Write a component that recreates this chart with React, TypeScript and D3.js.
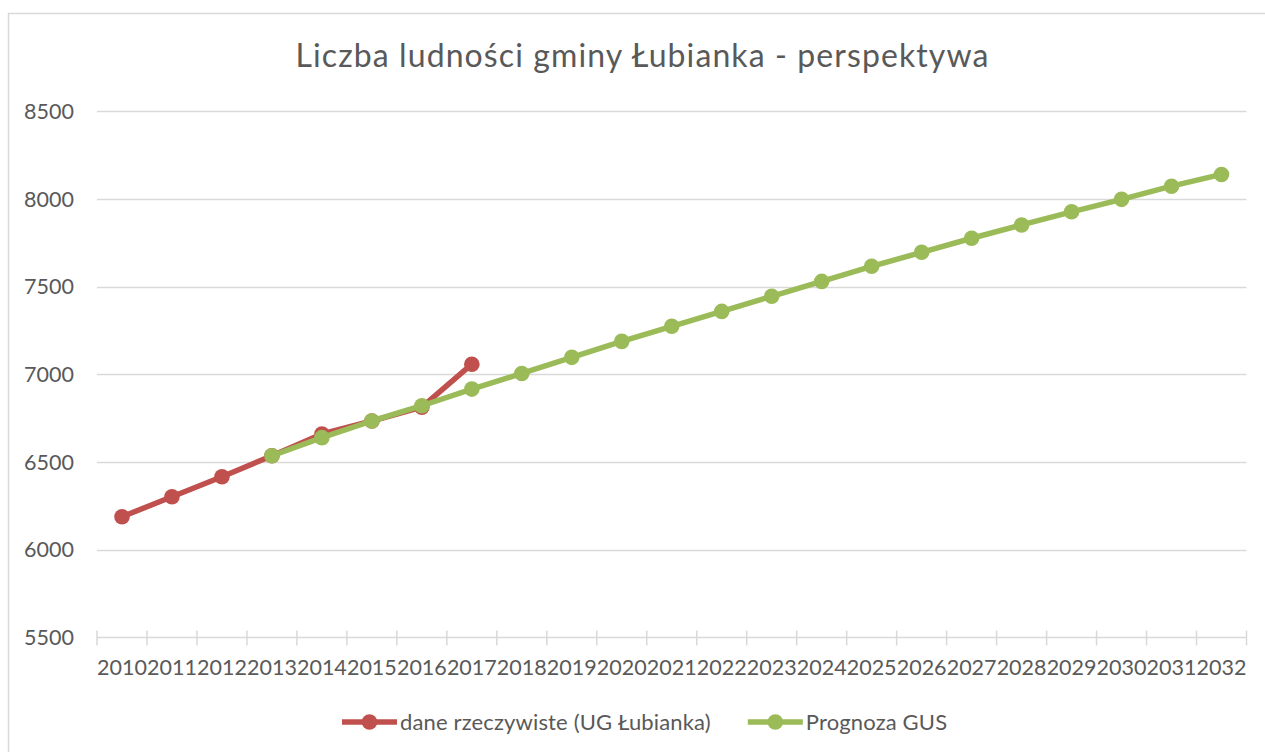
import { useEffect, useRef } from 'react'
import * as d3 from 'd3'

const years = [
  '2010', '2011', '2012', '2013', '2014', '2015', '2016', '2017', '2018', '2019', '2020', '2021',
  '2022', '2023', '2024', '2025', '2026', '2027', '2028', '2029', '2030', '2031', '2032',
]
// dane rzeczywiste (UG Łubianka), 2010–2017
const actualYears = ['2010', '2011', '2012', '2013', '2014', '2015', '2016', '2017']
const actualValues = [6188, 6302, 6416, 6536, 6660, 6734, 6813, 7058]
// Prognoza GUS, 2013–2032
const forecastYears = years.slice(3)
const forecastValues = [
  6536, 6639, 6734, 6821, 6916, 7005, 7097, 7188, 7274, 7359, 7445, 7530, 7616, 7696, 7776, 7852,
  7927, 7998, 8073, 8140,
]
const yTicks = [5500, 6000, 6500, 7000, 7500, 8000, 8500]

const seriesNames = ['dane rzeczywiste (UG Łubianka)', 'Prognoza GUS']
const seriesColors = ['#C0504D', '#9BBB59']

const W = 1265
const H = 752
const FONT = 'Lato, "Open Sans", sans-serif'
const TEXT = '#595959'
const GRID = '#d9d9d9'

export default function App() {
  const ref = useRef<SVGSVGElement | null>(null)

  useEffect(() => {
    if (!ref.current) {return}
    const svg = d3.select(ref.current)
    svg.selectAll('*').remove()

    // chart area border
    svg.append('rect')
      .attr('x', 8.5).attr('y', 13.5)
      .attr('width', W + 20).attr('height', H + 20)
      .attr('fill', '#fff').attr('stroke', GRID).attr('stroke-width', 1.5)

    svg.append('text')
      .attr('x', 642.5).attr('y', 67)
      .attr('text-anchor', 'middle')
      .attr('font-family', FONT).attr('font-size', 32)
      .attr('letter-spacing', 1.1)
      .attr('fill', TEXT)
      .text('Liczba ludności gminy Łubianka - perspektywa')

    const x = d3.scaleBand<string>().domain(years).range([97, 1246.5])
    const y = d3.scaleLinear().domain([5500, 8500]).range([637.4, 111.3])
    const cx = (d: string) => (x(d) ?? 0) + x.bandwidth() / 2

    // gridlines
    svg.append('g')
      .selectAll('line')
      .data(yTicks.slice(1))
      .join('line')
      .attr('x1', 97).attr('x2', 1246.5)
      .attr('y1', (d) => Math.round(y(d)) + 0.5).attr('y2', (d) => Math.round(y(d)) + 0.5)
      .attr('stroke', GRID).attr('stroke-width', 1.5)

    // y labels
    svg.append('g')
      .selectAll('text')
      .data(yTicks)
      .join('text')
      .attr('x', 74).attr('y', (d) => y(d))
      .attr('dy', '0.36em')
      .attr('text-anchor', 'end')
      .attr('font-family', FONT).attr('font-size', 21.5)
      .attr('fill', TEXT)
      .text((d) => d)

    // x axis
    const x0 = Math.round(y(5500)) + 0.5
    svg.append('line')
      .attr('x1', 97).attr('x2', 1246.5).attr('y1', x0).attr('y2', x0)
      .attr('stroke', GRID).attr('stroke-width', 1.5)
    const edges = years.map((d) => x(d) ?? 0).concat([1246.5])
    svg.append('g')
      .selectAll('line')
      .data(edges)
      .join('line')
      .attr('x1', (d) => d).attr('x2', (d) => d)
      .attr('y1', x0 - 7).attr('y2', x0 + 8)
      .attr('stroke', GRID).attr('stroke-width', 1.5)
    svg.append('g')
      .selectAll('text')
      .data(years)
      .join('text')
      .attr('x', (d) => cx(d)).attr('y', 675)
      .attr('text-anchor', 'middle')
      .attr('font-family', FONT).attr('font-size', 21.5)
      .attr('fill', TEXT)
      .text((d) => d)

    const line = d3.line<[string, number]>().x((d) => cx(d[0])).y((d) => y(d[1]))
    const series: [string, number][][] = [
      actualYears.map((d, i) => [d, actualValues[i]]),
      forecastYears.map((d, i) => [d, forecastValues[i]]),
    ]
    series.forEach((pts, i) => {
      const g = svg.append('g')
      g.append('path')
        .attr('d', line(pts))
        .attr('fill', 'none')
        .attr('stroke', seriesColors[i])
        .attr('stroke-width', 5.5)
        .attr('stroke-linejoin', 'round')
      g.selectAll('circle')
        .data(pts)
        .join('circle')
        .attr('cx', (d) => cx(d[0])).attr('cy', (d) => y(d[1]))
        .attr('r', 7.8)
        .attr('fill', seriesColors[i])
    })

    // legend
    let lx = 342
    seriesNames.forEach((name, i) => {
      const g = svg.append('g').attr('transform', `translate(${lx},722)`)
      g.append('line')
        .attr('x1', 0).attr('x2', 55)
        .attr('stroke', seriesColors[i]).attr('stroke-width', 5.5)
      g.append('circle').attr('cx', 27.5).attr('r', 7.8).attr('fill', seriesColors[i])
      const t = g.append('text')
        .attr('x', 58).attr('dy', '0.35em')
        .attr('font-family', FONT).attr('font-size', 22)
        .attr('letter-spacing', 0.15)
        .attr('fill', TEXT)
        .text(name)
      const tw = (t.node() as SVGTextElement).getComputedTextLength()
      lx += 58 + tw + 37
    })
  }, [])

  return (
    <svg
      ref={ref}
      width={W}
      height={H}
      style={{ position: 'absolute', left: 0, top: 0, background: '#fff' }}
    />
  )
}
